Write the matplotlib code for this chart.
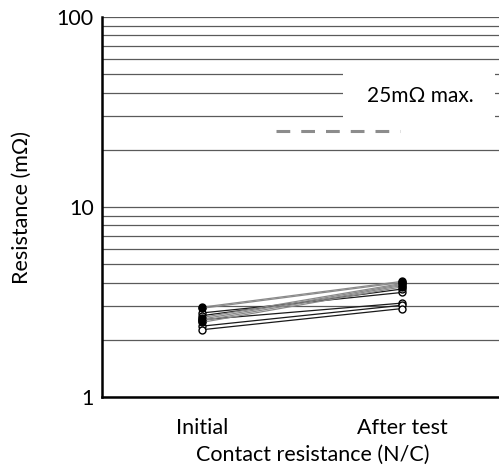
import matplotlib
matplotlib.use("Agg")
import matplotlib.pyplot as plt
from matplotlib.patches import Rectangle
import numpy as np

plt.rcParams['font.family'] = ['Lato', 'DejaVu Sans']

# data
stages = ["Initial", "After test"]
filled_initial = [2.97, 2.93, 2.62, 2.57, 2.52, 2.47]
filled_after = [4.06, 4.01, 3.96, 3.91, 3.86, 3.80]
open_initial = [2.77, 2.68, 2.55, 2.36, 2.26]
open_after = [3.55, 3.70, 3.12, 3.04, 2.92]
limit = 25
limit_label = "25mΩ max."
yticks = [1, 10, 100]

fs = 15.5

fig = plt.figure(figsize=(4.99, 4.70), dpi=100)
ax = fig.add_axes([102 / 499, 73 / 470, 400 / 499, 380 / 470])

ax.set_yscale("log")
ax.set_ylim(1, 100)
ax.set_xlim(0, 2)
xpos = np.array([0.5, 1.5])

# grid lines at every 1-2-...-9 step
grid_vals = [m * 10 ** e for e in range(0, 2) for m in range(1, 10)] + [100]
for g in grid_vals:
    ax.axhline(g, color="#5a5a5a", lw=0.9, zorder=1)

# limit label box
ax.add_patch(Rectangle((1.205, 28.5), 0.76, 24.0, facecolor="white",
                       edgecolor="none", zorder=2))
ax.text(1.59, 38.5, limit_label, ha="center", va="center", fontsize=fs - 0.5, zorder=3)

# dashed limit line
ax.plot([0.87, 1.49], [limit, limit], color="#8c8c8c", lw=2.2,
        dashes=(4.5, 3.6), zorder=3)

for a, b in zip(open_initial, open_after):
    ax.plot(xpos, [a, b], color="#1a1a1a", lw=0.9, marker="o", ms=5,
            mfc="white", mec="black", mew=1.0, zorder=4)
for a, b in zip(filled_initial, filled_after):
    ax.plot(xpos, [a, b], color="#8a8a8a", lw=0.9, marker="o", ms=5,
            mfc="black", mec="black", mew=1.0, zorder=5)

ax.set_xticks(xpos)
ax.set_xticklabels(stages, fontsize=fs)
ax.set_yticks(yticks)
ax.set_yticklabels([str(v) for v in yticks], fontsize=fs)
ax.yaxis.set_minor_locator(matplotlib.ticker.NullLocator())
ax.tick_params(length=0, pad=6)
ax.tick_params(axis="x", pad=15)

ax.set_xlabel("Contact resistance (N/C)", fontsize=fs)
ax.xaxis.set_label_coords(0.5275, -0.125)
ax.set_ylabel("Resistance (mΩ)", fontsize=fs, labelpad=18)

for s in ["top", "right"]:
    ax.spines[s].set_visible(False)
ax.spines["left"].set_linewidth(1.8)
ax.spines["bottom"].set_linewidth(1.8)
ax.spines["left"].set_zorder(6)
ax.spines["bottom"].set_zorder(6)

fig.savefig("out.png", dpi=100)
